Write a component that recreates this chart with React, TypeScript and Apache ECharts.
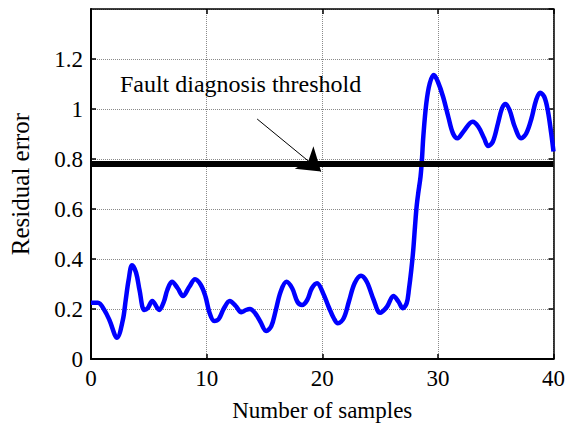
import React, { useEffect, useRef } from "react";
import * as echarts from "echarts";

const sampleX = [
  0, 0.6, 1.15, 1.6, 2.25, 2.75, 3.0, 3.25, 3.55, 3.9, 4.2, 4.6, 4.9, 5.3, 5.9, 6.3, 6.6, 7.0, 7.5, 7.95,
  8.5, 9.0, 9.5, 9.9, 10.25, 10.65, 11.05, 11.5, 12.0, 12.5, 13.0, 13.4, 13.75, 14.2, 14.65, 15.15, 15.6,
  15.95, 16.4, 16.9, 17.4, 17.85, 18.25, 18.7, 19.1, 19.55, 20.1, 20.55, 21.0, 21.35, 21.85, 22.3, 22.8,
  23.35, 23.85, 24.45, 25.0, 25.6, 26.15, 26.6, 26.95, 27.3, 27.5, 27.7, 27.87, 28.02, 28.16, 28.3, 28.5,
  28.62, 28.74, 29.0, 29.3, 29.65, 30.0, 30.45, 30.9, 31.3, 31.7, 32.2, 33.0, 33.5, 34.0, 34.35, 34.75,
  35.2, 35.55, 35.85, 36.2, 36.65, 37.2, 37.65, 38.1, 38.5, 38.85, 39.2, 39.5, 39.8, 40.0,
];
const residualError = [
  0.225, 0.225, 0.196, 0.155, 0.085, 0.155, 0.235, 0.315, 0.375, 0.345, 0.275, 0.196, 0.203, 0.232, 0.196,
  0.229, 0.276, 0.309, 0.283, 0.252, 0.289, 0.319, 0.296, 0.25, 0.185, 0.152, 0.16, 0.203, 0.232, 0.213,
  0.187, 0.196, 0.2, 0.183, 0.149, 0.112, 0.132, 0.189, 0.269, 0.309, 0.283, 0.229, 0.216, 0.236, 0.283,
  0.303, 0.26, 0.209, 0.163, 0.143, 0.163, 0.229, 0.303, 0.333, 0.309, 0.236, 0.185, 0.209, 0.252, 0.229,
  0.203, 0.223, 0.28, 0.356, 0.436, 0.529, 0.609, 0.663, 0.729, 0.796, 0.889, 1.023, 1.103, 1.136, 1.109,
  1.049, 0.969, 0.903, 0.883, 0.909, 0.949, 0.929, 0.883, 0.852, 0.869, 0.943, 1.003, 1.02, 0.996, 0.929,
  0.883, 0.903, 0.963, 1.036, 1.065, 1.049, 0.996, 0.903, 0.83,
];
const thresholdX = [0, 40];
const thresholdValue = 0.78;
const annotationText = "Fault diagnosis threshold";
const annotationAt = [2.5, 1.1];
const arrowFrom = [14.37, 0.96];
const arrowTo = [19.9, 0.75];
const xLabel = "Number of samples";
const yLabel = "Residual error";

const FONT = "'Liberation Serif', 'Times New Roman', serif";

export default function App() {
  const ref = useRef<HTMLDivElement>(null);
  useEffect(() => {
    document.body.style.margin = "0";
    if (!ref.current) return;
    const chart = echarts.init(ref.current, undefined, { renderer: "svg" });
    const grid = { left: 90, right: 14, top: 9, bottom: 68 };
    const splitLine = { show: true, lineStyle: { color: "#8a8a8a", width: 1, type: [1, 1] as any } };
    chart.setOption({
      animation: false,
      backgroundColor: "#ffffff",
      grid,
      xAxis: [
        {
          type: "value",
          min: 0,
          max: 40,
          interval: 10,
          position: "bottom",
          name: xLabel,
          nameLocation: "middle",
          nameGap: 40,
          nameTextStyle: { fontFamily: FONT, fontSize: 23, color: "#000" },
          axisLine: { show: true, onZero: false, lineStyle: { color: "#000", width: 2 } },
          axisTick: { show: true, inside: true, length: 5, lineStyle: { color: "#000", width: 1.5 } },
          axisLabel: { fontFamily: FONT, fontSize: 23, color: "#000", margin: 8 },
          splitLine,
        },
        {
          type: "value",
          min: 0,
          max: 40,
          interval: 10,
          position: "top",
          axisLine: { show: true, onZero: false, lineStyle: { color: "#000", width: 1.5 } },
          axisTick: { show: true, inside: true, length: 5, lineStyle: { color: "#000", width: 1.5 } },
          axisLabel: { show: false },
          splitLine: { show: false },
        },
      ],
      yAxis: [
        {
          type: "value",
          min: 0,
          max: 1.4,
          interval: 0.2,
          position: "left",
          name: yLabel,
          nameLocation: "middle",
          nameGap: 58,
          nameTextStyle: { fontFamily: FONT, fontSize: 25, color: "#000" },
          axisLine: { show: true, onZero: false, lineStyle: { color: "#000", width: 2 } },
          axisTick: { show: true, inside: true, length: 5, lineStyle: { color: "#000", width: 1.5 } },
          axisLabel: {
            fontFamily: FONT,
            fontSize: 23,
            color: "#000",
            margin: 8,
            showMaxLabel: false,
          },
          splitLine,
        },
        {
          type: "value",
          min: 0,
          max: 1.4,
          interval: 0.2,
          position: "right",
          axisLine: { show: true, onZero: false, lineStyle: { color: "#000", width: 1.5 } },
          axisTick: { show: true, inside: true, length: 5, lineStyle: { color: "#000", width: 1.5 } },
          axisLabel: { show: false },
          splitLine: { show: false },
        },
      ],
      series: [
        {
          type: "line",
          xAxisIndex: 0,
          yAxisIndex: 0,
          data: sampleX.map((x, i) => [x, residualError[i]]),
          showSymbol: false,
          smooth: 0.35,
          lineStyle: { color: "#0000ff", width: 4.5 },
          z: 2,
        },
        {
          type: "line",
          xAxisIndex: 0,
          yAxisIndex: 0,
          data: thresholdX.map((x) => [x, thresholdValue]),
          showSymbol: false,
          lineStyle: { color: "#000", width: 6 },
          z: 3,
        },
        {
          type: "line",
          xAxisIndex: 0,
          yAxisIndex: 0,
          data: [],
          z: 5,
          markLine: {
            silent: true,
            symbol: ["none", "arrow"],
            symbolSize: 22,
            label: { show: false },
            lineStyle: { color: "#000", width: 1, type: "solid" },
            itemStyle: { color: "#000" },
            data: [[{ coord: arrowFrom }, { coord: arrowTo }]],
          },
          markPoint: {
            silent: true,
            symbol: "circle",
            symbolSize: 0,
            data: [
              {
                coord: annotationAt,
                label: {
                  show: true,
                  position: [0, 0],
                  align: "left",
                  verticalAlign: "middle",
                  formatter: annotationText,
                  fontFamily: FONT,
                  fontSize: 24,
                  color: "#000",
                },
              },
            ],
          },
        },
      ],
    });
    return () => chart.dispose();
  }, []);
  return <div ref={ref} style={{ width: 568, height: 427 }} />;
}
